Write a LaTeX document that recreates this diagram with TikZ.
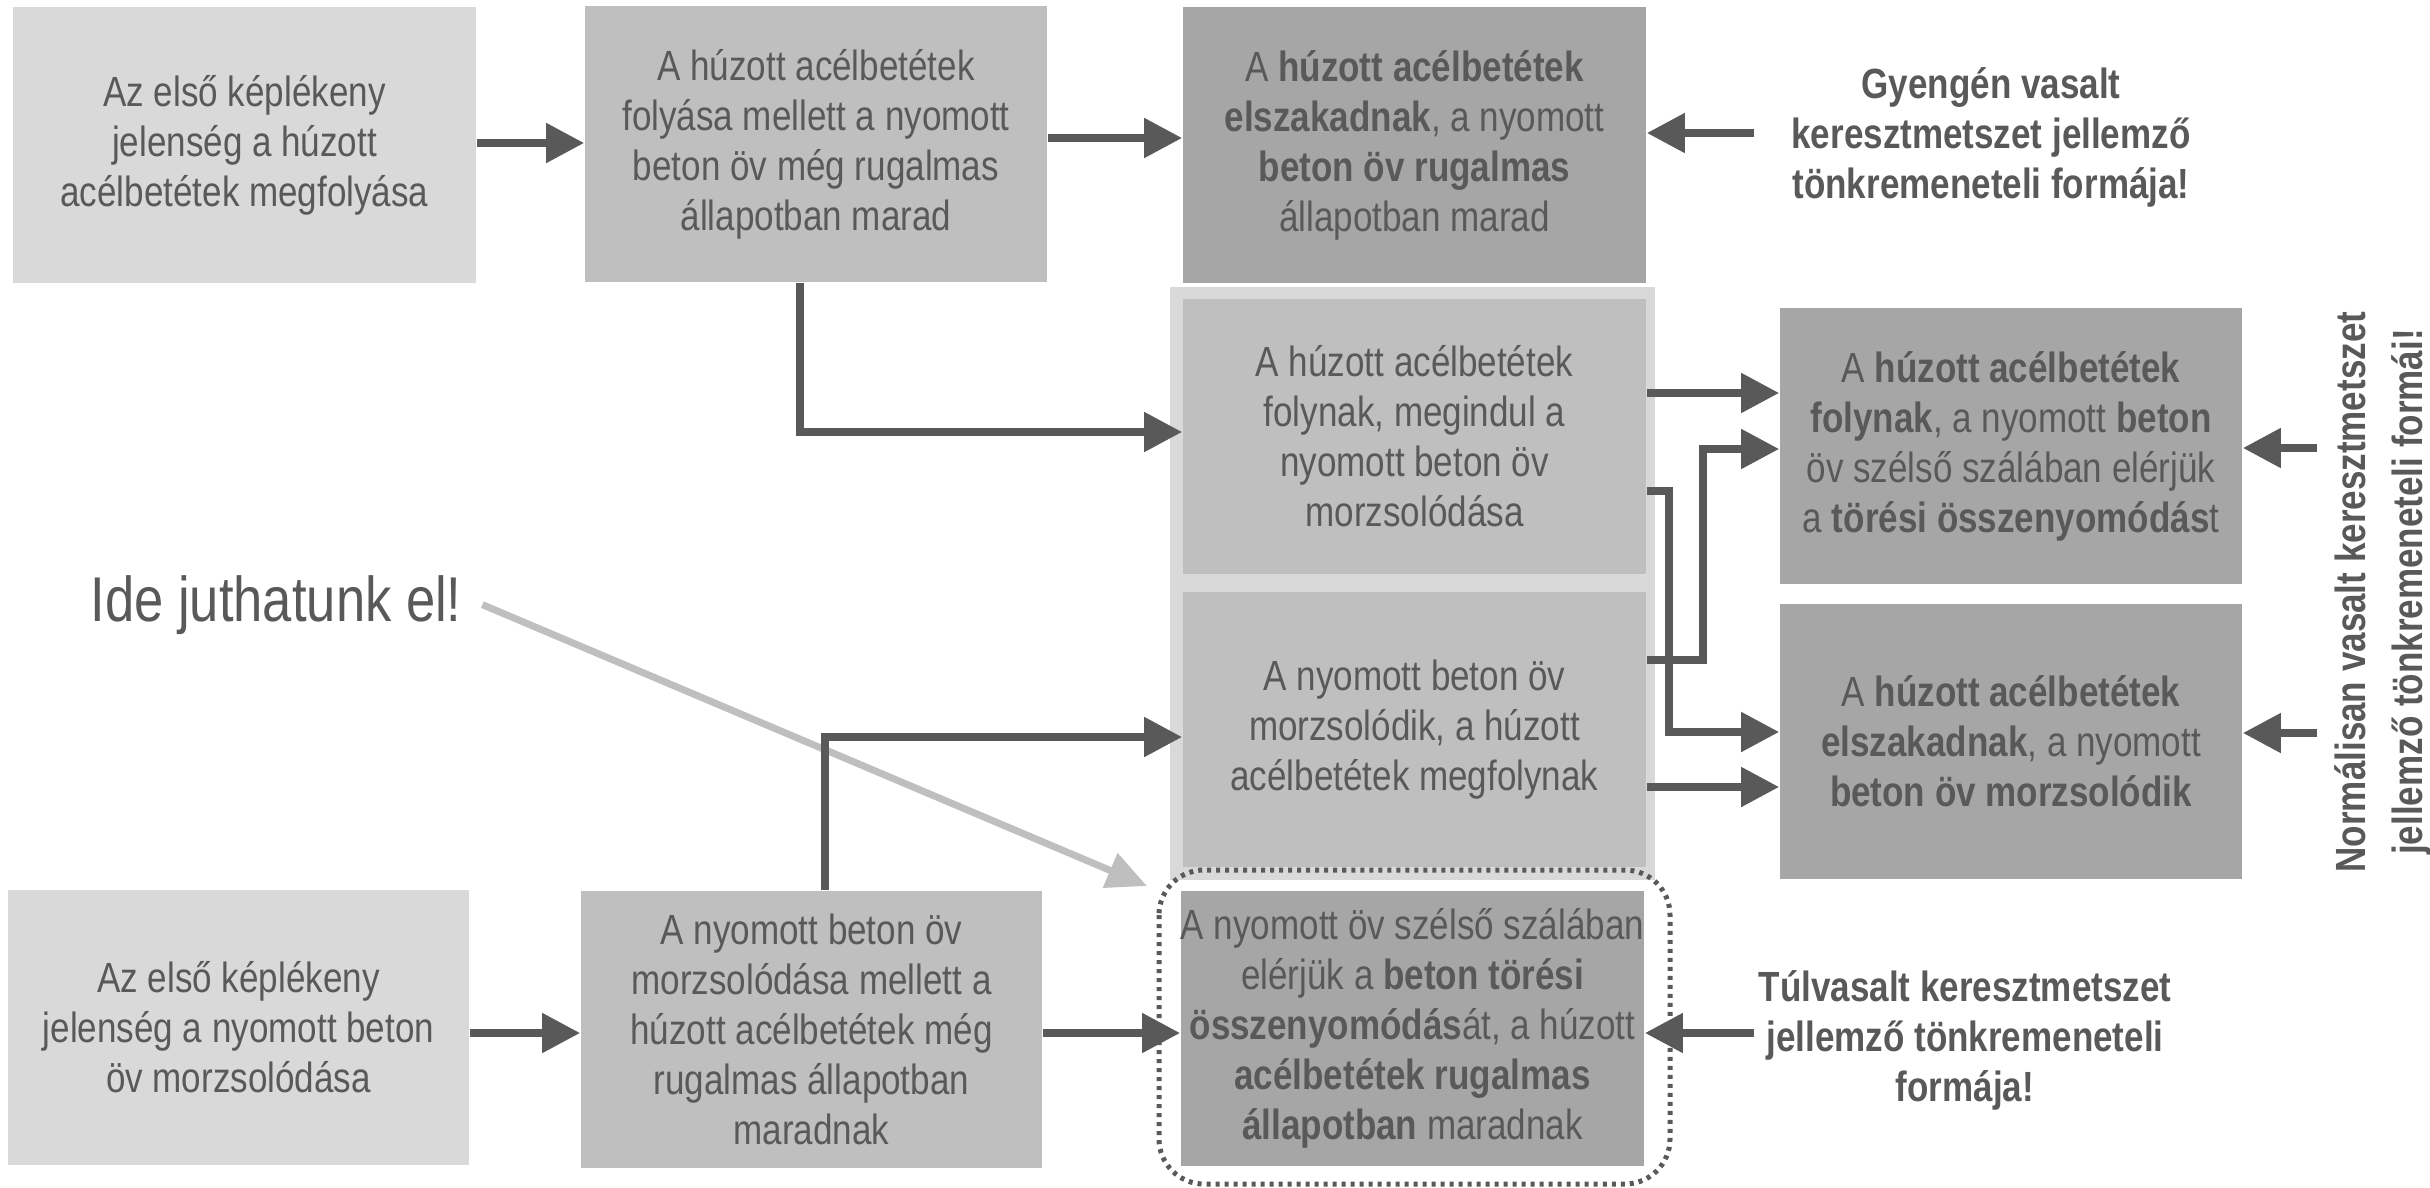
\documentclass[tikz,border=0pt]{standalone}
\usepackage{fontspec}
\setmainfont{Liberation Sans}[FakeStretch=0.83]
\usetikzlibrary{arrows.meta}
\definecolor{lite}{HTML}{D9D9D9}
\definecolor{midg}{HTML}{BFBFBF}
\definecolor{darkg}{HTML}{A6A6A6}
\definecolor{ink}{HTML}{595959}
\begin{document}
\begin{tikzpicture}[x=0.01cm,y=-0.01cm,
  box/.style={inner sep=0pt, align=center, text=ink, font=\fontsize{12pt}{14.2pt}\selectfont},
  lbox/.style={box, fill=lite},
  mbox/.style={box, fill=midg},
  dbox/.style={box, fill=darkg},
  note/.style={inner sep=0pt, align=center, text=ink, font=\fontsize{12pt}{14.2pt}\selectfont\bfseries},
  conn/.style={draw=ink, line width=0.08cm, -{Triangle[length=0.38cm,width=0.38cm]}},
  hint/.style={draw=midg, line width=0.07cm, -{Triangle[length=0.4cm,width=0.36cm]}},
  dotframe/.style={draw=ink, line width=0.05cm, dash pattern=on 0.04cm off 0.05cm, rounded corners=0.45cm}
]
\useasboundingbox (0,0) rectangle (2430,1187);
\fill[white] (0,0) rectangle (2430,1187);

% group frame behind B1, B2
\fill[lite] (1170,287) rectangle (1655,880);

% top row
\node[lbox, minimum width=4.63cm, minimum height=2.76cm] (a1) at (244.5,145)
  {Az első képlékeny\\ jelenség a húzott\\ acélbetétek megfolyása};
\node[mbox, minimum width=4.62cm, minimum height=2.76cm] (a2) at (816,144)
  {A húzott acélbetétek\\ folyása mellett a nyomott\\ beton öv még rugalmas\\ állapotban marad};
\node[dbox, minimum width=4.63cm, minimum height=2.76cm] (a3) at (1414.5,145)
  {A \textbf{húzott acélbetétek}\\ \textbf{elszakadnak}, a nyomott\\ \textbf{beton öv rugalmas}\\ állapotban marad};
\node[note] (gy) at (1991,137)
  {Gyengén vasalt\\ keresztmetszet jellemző\\ tönkremeneteli formája!};

% middle group
\node[mbox, minimum width=4.63cm, minimum height=2.75cm] (b1) at (1414.5,436.5)
  {A húzott acélbetétek\\ folynak, megindul a\\ nyomott beton öv\\ morzsolódása};
\node[mbox, minimum width=4.63cm, minimum height=2.75cm] (b2) at (1414.5,729.5)
  {A nyomott beton öv\\ morzsolódik, a húzott\\ acélbetétek megfolynak};
\node[dbox, minimum width=4.62cm, minimum height=2.76cm] (b3) at (2011,446)
  {A \textbf{húzott acélbetétek}\\ \textbf{folynak}, a nyomott \textbf{beton}\\ öv szélső szálában elérjük\\ a \textbf{törési összenyomódás}t};
\node[dbox, minimum width=4.62cm, minimum height=2.75cm] (b4) at (2011,741.5)
  {A \textbf{húzott acélbetétek}\\ \textbf{elszakadnak}, a nyomott\\ \textbf{beton öv morzsolódik}};
\node[note, rotate=90, font=\fontsize{12pt}{16pt}\selectfont\bfseries] (nv) at (2383,592)
  {Normálisan vasalt keresztmetszet\\ jellemző tönkremeneteli formái!};

% bottom row
\node[lbox, minimum width=4.61cm, minimum height=2.75cm] (c1) at (238.5,1027.5)
  {Az első képlékeny\\ jelenség a nyomott beton\\ öv morzsolódása};
\node[mbox, minimum width=4.61cm, minimum height=2.77cm] (c2) at (811.5,1029.5)
  {A nyomott beton öv\\ morzsolódása mellett a\\ húzott acélbetétek még\\ rugalmas állapotban\\ maradnak};
\node[dbox, minimum width=4.61cm, minimum height=2.75cm] (c3) at (1412.5,1028.5)
  {A nyomott öv szélső szálában\\ elérjük a \textbf{beton törési}\\ \textbf{összenyomódás}át, a húzott\\ \textbf{acélbetétek rugalmas}\\ \textbf{állapotban} maradnak};
\node[note] (tv) at (1965,1040)
  {Túlvasalt keresztmetszet\\ jellemző tönkremeneteli\\ formája!};
\draw[dotframe] (1159,870) rectangle (1670,1184);

% free text
\node[inner sep=0pt, anchor=base west, text=ink, font=\fontsize{18pt}{21pt}\selectfont] (ide) at (90,621) {Ide juthatunk el!};
\coordinate (hintend) at (1147,886);
\draw[hint] ([xshift=0.2cm]ide.east) -- (hintend);

% connectors
\draw[conn] (a1.east |- 0,143) -- (a2.west |- 0,143);
\draw[conn] (a2.east |- 0,138) -- (a3.west |- 0,138);
\coordinate (gys) at (1754,133);
\draw[conn] (gys) -- (gys -| a3.east);
\draw[conn] ([xshift=-0.16cm]a2.south) |- (b1.west |- 0,432);
\draw[conn] ([xshift=0.135cm]c2.north) |- (b2.west |- 0,737);
\draw[conn] (c1.east |- 0,1033) -- (c2.west |- 0,1033);
\draw[conn] (c2.east |- 0,1033) -- (c3.west |- 0,1033);
\coordinate (tvs) at (1754,1033);
\draw[conn] (tvs) -- (tvs -| c3.east);

\draw[conn] (b1.east |- 0,393) -- (b3.west |- 0,393);
\draw[conn] (b2.east |- 0,660) -- (1703,660) -- (1703,449) -- (b3.west |- 0,449);
\draw[conn] (b1.east |- 0,491) -- (1669,491) -- (1669,732) -- (b4.west |- 0,732);
\draw[conn] (b2.east |- 0,787) -- (b4.west |- 0,787);
\coordinate (r1) at (2317,448);
\coordinate (r2) at (2317,733);
\draw[conn] (r1) -- (r1 -| b3.east);
\draw[conn] (r2) -- (r2 -| b4.east);
\end{tikzpicture}
\end{document}
